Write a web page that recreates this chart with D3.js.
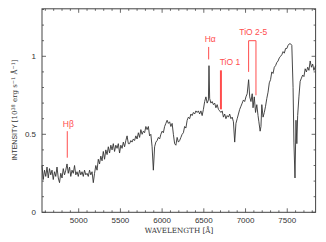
<!DOCTYPE html>
<html><head><meta charset="utf-8">
<script src="https://cdn.jsdelivr.net/npm/d3@7"></script>
<style>body{margin:0;background:#fff;overflow:hidden}</style>
</head><body>
<svg id="c" width="326" height="242"></svg>
<script>
const wavelength=[4560,4575,4590,4605,4620,4635,4650,4665,4680,4695,4710,4725,4740,4755,4770,4785,4800,4815,4830,4845,4860,4875,4890,4905,4920,4935,4950,4965,4980,4995,5010,5025,5040,5055,5070,5085,5100,5115,5130,5145,5160,5175,5190,5205,5220,5235,5250,5265,5280,5295,5310,5325,5340,5355,5370,5385,5400,5415,5430,5445,5460,5475,5490,5505,5520,5535,5550,5565,5580,5595,5610,5625,5640,5655,5670,5685,5700,5715,5730,5745,5760,5775,5790,5805,5820,5835,5850,5865,5880,5895,5910,5925,5940,5955,5970,5985,6000,6015,6030,6045,6060,6075,6090,6105,6120,6135,6150,6165,6180,6195,6210,6225,6240,6255,6270,6285,6300,6315,6330,6345,6360,6375,6390,6405,6420,6435,6450,6465,6480,6495,6510,6525,6540,6555,6562,6570,6585,6600,6615,6630,6645,6660,6675,6690,6705,6720,6735,6750,6765,6780,6795,6810,6825,6840,6855,6870,6885,6900,6915,6930,6945,6960,6975,6990,7005,7020,7037,7050,7065,7080,7090,7105,7120,7135,7150,7160,7175,7185,7195,7210,7225,7240,7255,7270,7285,7300,7315,7330,7345,7360,7375,7390,7405,7420,7435,7450,7465,7480,7495,7510,7525,7540,7555,7570,7580,7593,7605,7615,7625,7640,7655,7670,7685,7700,7715,7730,7745,7760,7775,7790,7805,7820,7840];
const intensity=[0.30,0.21,0.27,0.23,0.29,0.22,0.28,0.24,0.27,0.21,0.26,0.23,0.29,0.22,0.19,0.25,0.22,0.28,0.24,0.27,0.31,0.25,0.29,0.23,0.27,0.25,0.30,0.24,0.26,0.23,0.27,0.24,0.26,0.23,0.27,0.24,0.25,0.23,0.27,0.24,0.26,0.19,0.25,0.30,0.27,0.34,0.31,0.36,0.33,0.39,0.34,0.40,0.37,0.42,0.38,0.43,0.40,0.44,0.39,0.43,0.41,0.44,0.38,0.43,0.41,0.45,0.42,0.46,0.49,0.44,0.44,0.46,0.45,0.47,0.46,0.49,0.47,0.51,0.48,0.53,0.50,0.52,0.51,0.55,0.53,0.55,0.49,0.50,0.42,0.27,0.42,0.45,0.46,0.48,0.47,0.50,0.52,0.51,0.55,0.57,0.59,0.57,0.58,0.55,0.57,0.50,0.44,0.43,0.48,0.45,0.46,0.48,0.50,0.51,0.55,0.54,0.59,0.61,0.60,0.63,0.62,0.64,0.63,0.65,0.64,0.65,0.63,0.65,0.62,0.66,0.71,0.74,0.70,0.72,0.94,0.73,0.70,0.71,0.69,0.70,0.67,0.69,0.66,0.65,0.64,0.65,0.61,0.63,0.60,0.62,0.61,0.63,0.60,0.61,0.58,0.45,0.57,0.60,0.63,0.66,0.68,0.70,0.72,0.71,0.74,0.76,0.85,0.74,0.71,0.76,0.67,0.74,0.64,0.69,0.62,0.58,0.52,0.55,0.69,0.61,0.64,0.68,0.73,0.77,0.83,0.85,0.90,0.89,0.93,0.94,0.96,0.97,0.99,1.00,1.01,1.03,1.02,1.05,1.05,1.07,1.08,1.08,1.07,0.80,0.45,0.22,0.59,0.44,0.62,0.74,0.84,0.86,0.88,0.87,0.92,0.90,0.93,0.91,0.97,0.93,0.95,0.91,0.94];
const xTicks=[5000,5500,6000,6500,7000,7500];
const yTicks=[0,0.5,1];
const yTickLabels=["0","0.5","1"];
// single-line markers: label, wavelength, line low/high intensity
const markLabels=["Hβ","Hα","TiO 1"];
const markWave=[4863,6558,6705];
const markLow=[0.35,0.98,0.66];
const markHigh=[0.52,1.06,0.91];
// TiO 2-5 bracket
const bracketLabel="TiO 2-5";
const bracketWave=[7037,7125];
const bracketLow=[0.90,0.75];
const bracketTop=1.10;

const svg=d3.select("#c");
const x=d3.scaleLinear().domain([4560,7840]).range([42,315.6]);
const y=d3.scaleLinear().domain([0,1.3]).range([212.3,9.5]);
const X0=42,X1=315.6,Y0=212.3,Y1=8.8;
const ax="#444";
// frame
svg.append("rect").attr("x",X0).attr("y",Y1).attr("width",X1-X0).attr("height",Y0-Y1)
  .attr("fill","none").attr("stroke",ax).attr("stroke-width",1);
// ticks
const xMinor=d3.range(4600,7840,100);
const yMinor=d3.range(0,1.31,0.1);
const tg=svg.append("g").attr("stroke",ax).attr("stroke-width",0.8);
xMinor.forEach(v=>{const major=v%500===0;const L=major?4:2;
  tg.append("line").attr("x1",x(v)).attr("x2",x(v)).attr("y1",Y0).attr("y2",Y0-L);
  tg.append("line").attr("x1",x(v)).attr("x2",x(v)).attr("y1",Y1).attr("y2",Y1+L);});
yMinor.forEach(v=>{const major=Math.abs(v*2-Math.round(v*2))<1e-6;const L=major?4:2;
  tg.append("line").attr("y1",y(v)).attr("y2",y(v)).attr("x1",X0).attr("x2",X0+L);
  tg.append("line").attr("y1",y(v)).attr("y2",y(v)).attr("x1",X1).attr("x2",X1-L);});
// tick labels
const tf="Liberation Sans, Arial, sans-serif";
svg.append("g").selectAll("text").data(xTicks).join("text")
  .attr("x",d=>x(d)).attr("y",223).attr("text-anchor","middle")
  .attr("font-family",tf).attr("font-size",8).attr("fill","#333").text(d=>d);
svg.append("g").selectAll("text").data(yTicks).join("text")
  .attr("x",36).attr("y",d=>y(d)+3).attr("text-anchor","end")
  .attr("font-family",tf).attr("font-size",8).attr("fill","#333").text((d,i)=>yTickLabels[i]);
// axis titles
svg.append("text").attr("x",179).attr("y",233).attr("text-anchor","middle")
  .attr("font-family","DejaVu Serif, serif").attr("font-size",7.2).attr("fill","#333")
  .text("WAVELENGTH [Å]");
const yl=svg.append("text").attr("transform","translate(17,110) rotate(-90)").attr("text-anchor","middle")
  .attr("font-size",7).attr("fill","#333");
yl.append("tspan").attr("font-family",tf).text("INTENSITY ");
yl.append("tspan").attr("font-family","DejaVu Serif, serif").text("[10");
yl.append("tspan").attr("font-family","DejaVu Serif, serif").attr("font-size",5).attr("dy",-2.5).text("38");
yl.append("tspan").attr("font-family","DejaVu Serif, serif").attr("dy",2.5).text(" erg s");
yl.append("tspan").attr("font-family","DejaVu Serif, serif").attr("font-size",5).attr("dy",-2.5).text("−1");
yl.append("tspan").attr("font-family","DejaVu Serif, serif").attr("dy",2.5).text(" Å");
yl.append("tspan").attr("font-family","DejaVu Serif, serif").attr("font-size",5).attr("dy",-2.5).text("−1");
yl.append("tspan").attr("font-family","DejaVu Serif, serif").attr("dy",2.5).text("]");
// spectrum
const pts=wavelength.map((w,i)=>[w,intensity[i]]);
svg.append("path").datum(pts).attr("fill","none").attr("stroke","#333").attr("stroke-width",0.9)
  .attr("stroke-linejoin","round")
  .attr("d",d3.line().x(d=>x(d[0])).y(d=>y(d[1])));
// markers
const red="#ff4d4d";
markWave.forEach((w,i)=>{
  svg.append("line").attr("x1",x(w)).attr("x2",x(w)).attr("y1",y(markLow[i])).attr("y2",y(markHigh[i]))
    .attr("stroke",red).attr("stroke-width",i===2?2:1);
});
const lf="Liberation Sans, Arial, sans-serif";
svg.append("text").attr("x",x(markWave[0])+1).attr("y",y(markHigh[0])-4).attr("text-anchor","middle")
  .attr("font-family",lf).attr("font-size",8.5).attr("fill",red).text(markLabels[0]);
svg.append("text").attr("x",x(markWave[1])+1.5).attr("y",y(markHigh[1])-5).attr("text-anchor","middle")
  .attr("font-family",lf).attr("font-size",8.5).attr("fill",red).text(markLabels[1]);
svg.append("text").attr("x",x(markWave[2])+9).attr("y",y(markHigh[2])-5).attr("text-anchor","middle")
  .attr("font-family",lf).attr("font-size",8.5).attr("fill",red).text(markLabels[2]);
svg.append("path").attr("fill","none").attr("stroke",red).attr("stroke-width",1)
  .attr("d",`M${x(bracketWave[0])},${y(bracketLow[0])}V${y(bracketTop)}H${x(bracketWave[1])}V${y(bracketLow[1])}`);
svg.append("text").attr("x",(x(bracketWave[0])+x(bracketWave[1]))/2+1).attr("y",y(bracketTop)-6).attr("text-anchor","middle")
  .attr("font-family",lf).attr("font-size",8.5).attr("fill",red).text(bracketLabel);
</script>
</body></html>
